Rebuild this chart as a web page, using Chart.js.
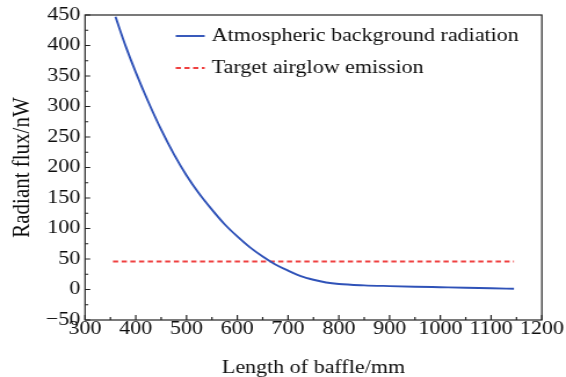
<!DOCTYPE html>
<html><head><meta charset="utf-8">
<script src="https://cdn.jsdelivr.net/npm/chart.js@4/dist/chart.umd.min.js"></script>
<style>
html,body{margin:0;padding:0;background:#fff;overflow:hidden;}
#wrap{width:488px;height:377px;transform:scaleX(1.1598);transform-origin:0 0;}
</style></head><body>
<div id="wrap"><canvas id="c" width="488" height="377"></canvas></div>
<script>
// ---- data ----
const xTicks = [300, 400, 500, 600, 700, 800, 900, 1000, 1100, 1200];
const yTicks = [-50, 0, 50, 100, 150, 200, 250, 300, 350, 400, 450];
const bgLength = [360, 380, 400, 425, 450, 475, 500, 525, 550, 575, 600, 625, 650, 675, 700, 725, 750, 775, 800, 850, 900, 950, 1000, 1050, 1100, 1145];
const bgFlux   = [447, 399, 356, 307, 262, 222, 187, 157, 131, 107, 87, 69, 54, 41, 31, 22, 16, 11.5, 9, 6.8, 5.6, 4.6, 3.7, 2.8, 2, 1.2];
const emLength = [355, 1145];
const emFlux   = [46, 46];
const seriesLabels = ['Atmospheric background radiation', 'Target airglow emission'];
const xTitle = 'Length of baffle/mm';
const yTitle = 'Radiant flux/nW';

const FONT = "'Liberation Serif','Times New Roman',serif";
const TXT = '#0d0d0d';
const AX = '#222';

const framePlugin = {
  id: 'frame',
  afterDatasetsDraw(chart) {
    const {ctx, chartArea: a, scales: {x, y}} = chart;
    ctx.save();
    ctx.strokeStyle = AX;
    ctx.lineWidth = 1.2;
    ctx.strokeRect(a.left, a.top, a.right - a.left, a.bottom - a.top);
    ctx.beginPath();
    x.ticks.forEach((t, i) => {
      const p = x.getPixelForValue(t.value);
      ctx.moveTo(p, a.bottom); ctx.lineTo(p, a.bottom - 5);
      if (i < x.ticks.length - 1) {
        const m = x.getPixelForValue((t.value + x.ticks[i + 1].value) / 2);
        ctx.moveTo(m, a.bottom); ctx.lineTo(m, a.bottom - 3);
      }
    });
    y.ticks.forEach((t, i) => {
      const p = y.getPixelForValue(t.value);
      ctx.moveTo(a.left, p); ctx.lineTo(a.left + 4.5, p);
      if (i < y.ticks.length - 1) {
        const m = y.getPixelForValue((t.value + y.ticks[i + 1].value) / 2);
        ctx.moveTo(a.left, m); ctx.lineTo(a.left + 2.8, m);
      }
    });
    ctx.stroke();
    // legend inside plot area
    const rows = [36, 68];
    ctx.font = '19px ' + FONT;
    ctx.textBaseline = 'middle';
    ctx.textAlign = 'left';
    chart.data.datasets.forEach((ds, i) => {
      const yy = rows[i];
      ctx.beginPath();
      ctx.strokeStyle = ds.borderColor;
      ctx.lineWidth = ds.borderWidth;
      ctx.setLineDash(ds.borderDash || []);
      ctx.moveTo(151.5, yy); ctx.lineTo(176.5, yy);
      ctx.stroke();
      ctx.setLineDash([]);
      ctx.fillStyle = TXT;
      ctx.fillText(ds.label, 182.5, yy);
    });
    ctx.restore();
  }
};

new Chart(document.getElementById('c'), {
  type: 'line',
  data: {
    datasets: [
      {
        label: seriesLabels[0],
        data: bgLength.map((v, i) => ({x: v, y: bgFlux[i]})),
        borderColor: '#2f52b8', borderWidth: 1.9, pointRadius: 0,
        cubicInterpolationMode: 'monotone', fill: false
      },
      {
        label: seriesLabels[1],
        data: emLength.map((v, i) => ({x: v, y: emFlux[i]})),
        borderColor: '#ef4040', borderWidth: 2, borderDash: [4.5, 3], pointRadius: 0, fill: false
      }
    ]
  },
  options: {
    responsive: false, animation: false, devicePixelRatio: 1,
    layout: {padding: {top: 15, right: 20.8, left: 0, bottom: 0}},
    plugins: {legend: {display: false}, tooltip: {enabled: false}},
    scales: {
      x: {
        type: 'linear', min: 300, max: 1200,
        afterBuildTicks: s => { s.ticks = xTicks.map(v => ({value: v})); },
        afterFit: s => { s.height = 57; },
        grid: {display: false, drawTicks: false}, border: {display: false},
        ticks: {padding: 0, color: TXT, font: {family: FONT, size: 19, lineHeight: 1}, maxRotation: 0, autoSkip: false,
          callback: v => String(v)},
        title: {display: true, text: xTitle, color: TXT, font: {family: FONT, size: 19, lineHeight: 0.9}, padding: {top: 0, bottom: 0}}
      },
      y: {
        type: 'linear', min: -50, max: 450,
        afterBuildTicks: s => { s.ticks = yTicks.map(v => ({value: v})); },
        afterFit: s => { s.width = 73.3; },
        grid: {display: false, drawTicks: false}, border: {display: false},
        ticks: {padding: 4, color: TXT, font: {family: FONT, size: 19, lineHeight: 1}, autoSkip: false,
          callback: v => v < 0 ? '\u2212' + Math.abs(v) : String(v)},
        title: {display: true, text: yTitle, color: TXT, font: {family: FONT, size: 21, lineHeight: 1.2}, padding: {top: 6.8, bottom: 0}}
      }
    }
  },
  plugins: [framePlugin]
});
</script>
</body></html>
